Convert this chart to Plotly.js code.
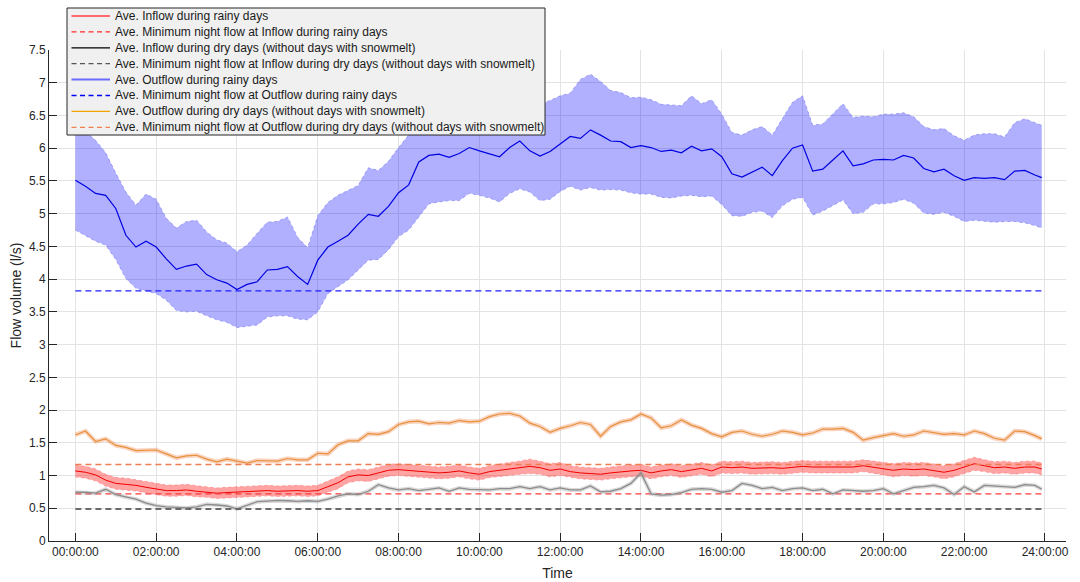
<!DOCTYPE html>
<html>
<head>
<meta charset="utf-8">
<script src="https://cdn.plot.ly/plotly-3.0.1.min.js"></script>
<style>html,body{margin:0;padding:0;background:#fff;}#chart{width:1080px;height:582px;}</style>
</head>
<body>
<div id="chart"></div>
<script>
// Time of day in hours (15-minute samples, last sample 23:55)
const hours = [0,0.25,0.5,0.75,1,1.25,1.5,1.75,2,2.25,2.5,2.75,3,3.25,3.5,3.75,4,4.25,4.5,4.75,5,5.25,5.5,5.75,6,6.25,6.5,6.75,7,7.25,
  7.5,7.75,8,8.25,8.5,8.75,9,9.25,9.5,9.75,10,10.25,10.5,10.75,11,11.25,11.5,11.75,12,12.25,12.5,12.75,13,13.25,13.5,13.75,14,14.25,14.5,14.75,15,15.25,15.5,15.75,
  16,16.25,16.5,16.75,17,17.25,17.5,17.75,18,18.25,18.5,18.75,19,19.25,19.5,19.75,20,20.25,20.5,20.75,21,21.25,21.5,21.75,22,22.25,22.5,22.75,23,23.25,23.5,23.75,23.92];

// Ave. Outflow during rainy days (mean, upper and lower envelope)
const outflowRainy = [5.51,5.42,5.31,5.28,5.08,4.67,4.49,4.58,4.49,4.31,4.15,4.20,4.23,4.07,3.99,3.94,3.84,3.92,3.96,4.14,4.15,4.19,4.04,3.92,4.29,4.49,4.58,4.67,4.84,4.99,4.96,
  5.11,5.32,5.44,5.79,5.89,5.91,5.86,5.92,6.01,5.96,5.91,5.87,6.01,6.11,5.96,5.88,5.95,6.06,6.18,6.15,6.28,6.20,6.11,6.10,6.01,6.04,6.01,5.95,5.97,5.93,6.03,5.96,5.99,5.87,
  5.61,5.56,5.63,5.71,5.58,5.81,6.00,6.05,5.65,5.68,5.82,5.96,5.73,5.76,5.82,5.83,5.82,5.89,5.85,5.69,5.64,5.68,5.58,5.51,5.55,5.54,5.55,5.52,5.65,5.66,5.59,
  5.55];
const outflowRainyUpper = [6.35,6.25,6.12,5.93,5.62,5.33,5.13,5.30,5.22,4.93,4.78,4.88,4.90,4.72,4.60,4.55,4.42,4.52,4.70,4.87,4.88,4.95,4.64,4.48,4.97,5.17,5.28,5.36,5.43,5.70,5.66,
  5.80,6.01,6.20,6.36,6.45,6.50,6.52,6.52,6.55,6.56,6.57,6.58,6.60,6.62,6.64,6.66,6.73,6.80,6.84,7.05,7.13,7.02,6.88,6.85,6.77,6.78,6.74,6.67,6.66,6.65,6.80,6.68,6.74,6.52,
  6.24,6.20,6.28,6.33,6.20,6.45,6.70,6.80,6.35,6.37,6.53,6.68,6.47,6.49,6.48,6.52,6.52,6.54,6.48,6.33,6.28,6.30,6.19,6.12,6.20,6.22,6.22,6.17,6.39,6.45,6.39,
  6.35];
const outflowRainyLower = [4.75,4.66,4.58,4.52,4.30,4.01,3.86,3.82,3.78,3.68,3.52,3.50,3.51,3.44,3.38,3.34,3.26,3.28,3.30,3.42,3.44,3.44,3.39,3.38,3.50,3.78,3.88,3.99,4.14,4.29,4.30,
  4.45,4.65,4.75,4.95,5.15,5.18,5.20,5.20,5.31,5.28,5.24,5.18,5.31,5.38,5.33,5.20,5.22,5.34,5.42,5.36,5.40,5.36,5.37,5.36,5.32,5.30,5.30,5.25,5.24,5.27,5.28,5.26,5.27,5.14,
  4.97,4.96,5.02,5.04,4.94,5.12,5.22,5.25,4.98,5.04,5.12,5.21,5.00,5.02,5.15,5.15,5.17,5.22,5.16,5.01,4.99,5.02,4.96,4.88,4.90,4.89,4.87,4.88,4.88,4.86,4.82,
  4.78];

// Ave. Outflow during dry days (without days with snowmelt)
const outflowDry = [1.62,1.68,1.52,1.56,1.46,1.43,1.38,1.39,1.39,1.33,1.27,1.30,1.31,1.25,1.21,1.25,1.22,1.19,1.23,1.23,1.22,1.26,1.24,1.24,1.34,1.33,1.47,1.53,1.53,1.64,
  1.63,1.67,1.78,1.82,1.83,1.79,1.81,1.80,1.84,1.82,1.83,1.90,1.94,1.95,1.91,1.80,1.75,1.66,1.72,1.76,1.81,1.78,1.60,1.75,1.82,1.85,1.94,1.88,1.73,1.76,1.85,1.77,1.72,
  1.64,1.59,1.66,1.68,1.63,1.60,1.63,1.68,1.66,1.62,1.65,1.71,1.71,1.72,1.66,1.54,1.58,1.61,1.64,1.60,1.62,1.68,1.66,1.63,1.64,1.62,1.68,1.64,1.57,1.54,1.68,1.67,1.61,
  1.56];

// Ave. Inflow during rainy days (mean and half-width of its band)
const inflowRainy = [1.07,1.05,1.01,0.93,0.88,0.87,0.85,0.82,0.79,0.77,0.77,0.78,0.76,0.75,0.73,0.74,0.75,0.755,0.76,0.77,0.76,0.77,0.77,0.76,0.77,0.83,0.89,0.98,1.01,1.00,
  1.04,1.08,1.09,1.08,1.06,1.05,1.04,1.05,1.07,1.04,1.02,1.06,1.08,1.10,1.12,1.14,1.12,1.08,1.10,1.06,1.04,1.03,1.02,1.04,1.06,1.07,1.08,1.04,1.07,1.09,1.06,1.09,1.11,1.07,
  1.13,1.12,1.13,1.11,1.12,1.12,1.11,1.12,1.14,1.13,1.13,1.13,1.14,1.13,1.15,1.13,1.11,1.08,1.10,1.09,1.10,1.08,1.05,1.08,1.13,1.18,1.15,1.12,1.13,1.11,1.13,1.13,
  1.10];
const inflowRainySpread = [0.09,0.09,0.09,0.09,0.09,0.09,0.085,0.085,0.085,0.085,0.085,0.085,0.085,0.08,0.08,0.08,0.08,0.08,0.08,0.08,0.08,0.08,0.08,0.08,0.08,0.085,0.09,0.09,0.09,0.09,
  0.09,0.09,0.09,0.09,0.09,0.09,0.09,0.09,0.09,0.09,0.09,0.09,0.10,0.10,0.10,0.11,0.10,0.10,0.10,0.09,0.09,0.09,0.09,0.09,0.09,0.09,0.09,0.09,0.09,0.09,0.09,0.09,0.09,0.09,
  0.09,0.09,0.09,0.09,0.09,0.09,0.09,0.09,0.09,0.09,0.09,0.09,0.09,0.09,0.09,0.09,0.10,0.10,0.10,0.10,0.10,0.10,0.10,0.10,0.10,0.10,0.09,0.09,0.09,0.09,0.09,0.09,
  0.09];

// Ave. Inflow during dry days (without days with snowmelt)
const inflowDry = [0.745,0.745,0.73,0.79,0.71,0.67,0.64,0.58,0.54,0.52,0.51,0.505,0.52,0.56,0.55,0.535,0.49,0.55,0.60,0.61,0.62,0.615,0.605,0.615,0.605,0.64,0.69,0.72,0.71,0.76,
  0.86,0.81,0.78,0.80,0.77,0.79,0.81,0.76,0.81,0.79,0.78,0.78,0.80,0.80,0.83,0.80,0.83,0.78,0.81,0.78,0.78,0.84,0.75,0.76,0.80,0.88,1.04,0.72,0.70,0.71,0.74,0.79,0.80,0.79,
  0.745,0.77,0.88,0.85,0.80,0.82,0.77,0.80,0.81,0.77,0.79,0.72,0.78,0.77,0.76,0.77,0.80,0.72,0.77,0.82,0.83,0.85,0.81,0.71,0.83,0.75,0.85,0.84,0.82,0.82,0.86,0.85,
  0.79];

// Average minimum night flows (l/s)
const minNightInflowRainy = 0.72;
const minNightInflowDry = 0.49;
const minNightOutflowRainy = 3.82;
const minNightOutflowDry = 1.17;

const xTickVals = [0,2,4,6,8,10,12,14,16,18,20,22,24];
const xTickText = ["00:00:00","02:00:00","04:00:00","06:00:00","08:00:00","10:00:00","12:00:00","14:00:00","16:00:00","18:00:00","20:00:00","22:00:00","24:00:00"];

const legendLabels = [
  "Ave. Inflow during rainy days",
  "Ave. Minimum night flow at Inflow during rainy days",
  "Ave. Inflow during dry days (without days with snowmelt)",
  "Ave. Minimum night flow at Inflow during dry days (without days with snowmelt)",
  "Ave. Outflow during rainy days",
  "Ave. Minimum night flow at Outflow during rainy days",
  "Ave. Outflow during dry days (without days with snowmelt)",
  "Ave. Minimum night flow at Outflow during dry days (without days with snowmelt)"
];

const span = [hours[0], hours[hours.length - 1]];
const flat = v => [v, v];
const redUpper = inflowRainy.map((v, i) => v + inflowRainySpread[i]);
const redLower = inflowRainy.map((v, i) => v - inflowRainySpread[i]);
const DASH = "6px,4px";

const traces = [
  {x: hours, y: outflowRainyLower, mode: "lines", line: {color: "#8a8af2", width: 0.8, dash: "dot"}, hoverinfo: "skip", showlegend: false},
  {x: hours, y: outflowRainyUpper, mode: "lines", fill: "tonexty", fillcolor: "rgba(0,0,255,0.31)", line: {color: "#8a8af2", width: 0.8, dash: "dot"}, hoverinfo: "skip", showlegend: false},
  {x: hours, y: outflowRainy, mode: "lines", name: legendLabels[4], line: {color: "#0000e0", width: 1.2}},
  {x: span, y: flat(minNightOutflowRainy), mode: "lines", name: legendLabels[5], line: {color: "#1f1fff", width: 1.2, dash: DASH}},
  {x: hours, y: outflowDry, mode: "lines", line: {color: "rgba(240,150,100,0.40)", width: 4.5}, hoverinfo: "skip", showlegend: false},
  {x: hours, y: outflowDry, mode: "lines", name: legendLabels[6], line: {color: "#e8903c", width: 1.2}},
  {x: hours, y: redLower, mode: "lines", line: {color: "#ff8a8a", width: 0.8, dash: "dot"}, hoverinfo: "skip", showlegend: false},
  {x: hours, y: redUpper, mode: "lines", fill: "tonexty", fillcolor: "rgba(255,0,0,0.36)", line: {color: "#ff8a8a", width: 0.8, dash: "dot"}, hoverinfo: "skip", showlegend: false},
  {x: hours, y: inflowRainy, mode: "lines", name: legendLabels[0], line: {color: "#f00000", width: 1}},
  {x: span, y: flat(minNightOutflowDry), mode: "lines", name: legendLabels[7], line: {color: "#ef7d52", width: 1.5, dash: DASH}},
  {x: span, y: flat(minNightInflowRainy), mode: "lines", name: legendLabels[1], line: {color: "#ff3a3a", width: 1.3, dash: DASH}},
  {x: hours, y: inflowDry, mode: "lines", line: {color: "rgba(150,150,150,0.35)", width: 4}, hoverinfo: "skip", showlegend: false},
  {x: hours, y: inflowDry, mode: "lines", name: legendLabels[2], line: {color: "#8c8c8c", width: 1.3}},
  {x: span, y: flat(minNightInflowDry), mode: "lines", name: legendLabels[3], line: {color: "#6a6a6a", width: 2, dash: DASH}}
];

// Custom legend box (matches the compact MATLAB-style legend)
const L = 49, R = 1066, T = 50, B = 541;
const px = x => (x - L) / (R - L);
const py = y => (B - y) / (B - T);
const legendStyles = [
  {color: "#ff6b6b", width: 2, dash: "solid"},
  {color: "#ff2a2a", width: 1.2, dash: "dash"},
  {color: "#000000", width: 1.2, dash: "solid"},
  {color: "#555555", width: 1.3, dash: "dash"},
  {color: "#6b6bff", width: 2, dash: "solid"},
  {color: "#0000ff", width: 1.3, dash: "dash"},
  {color: "#f0a500", width: 1.2, dash: "solid"},
  {color: "#f08050", width: 1.3, dash: "dash"}
];
const shapes = [{type: "rect", xref: "paper", yref: "paper", x0: px(67), x1: px(545), y0: py(135), y1: py(8),
  fillcolor: "#f0f0f0", line: {color: "#262626", width: 1}, layer: "above"}];
const annotations = [];
legendLabels.forEach((lab, i) => {
  const yc = 16 + i * 15.9;
  shapes.push({type: "line", xref: "paper", yref: "paper", x0: px(71.5), x1: px(110), y0: py(yc), y1: py(yc),
    line: {color: legendStyles[i].color, width: legendStyles[i].width, dash: legendStyles[i].dash === "dash" ? "5px,3.5px" : "solid"}, layer: "above"});
  annotations.push({xref: "paper", yref: "paper", x: px(113), y: py(yc), xanchor: "left", yanchor: "middle", text: lab, showarrow: false,
    font: {family: "Liberation Sans, Arial, sans-serif", size: 12, color: "#1a1a1a"}});
});

const tickFont = {family: "Liberation Sans, Arial, sans-serif", size: 12, color: "#262626"};
const layout = {
  width: 1080, height: 582,
  margin: {l: L, r: 1080 - R, t: T, b: 582 - B},
  paper_bgcolor: "#ffffff", plot_bgcolor: "#ffffff",
  showlegend: false,
  font: {family: "Liberation Sans, Arial, sans-serif", color: "#262626"},
  xaxis: {
    range: [-0.653, 24.52], tickmode: "array", tickvals: xTickVals, ticktext: xTickText,
    ticks: "inside", ticklen: 8, tickwidth: 1, tickcolor: "#262626",
    showline: true, linecolor: "#262626", linewidth: 1,
    showgrid: true, gridcolor: "#e3e3e3", gridwidth: 1, zeroline: false,
    tickfont: tickFont, automargin: false,
    title: {text: "Time", font: {family: "Liberation Sans, Arial, sans-serif", size: 14, color: "#262626"}, standoff: 9}
  },
  yaxis: {
    range: [0, 7.5], tick0: 0, dtick: 0.5,
    ticks: "inside", ticklen: 8, tickwidth: 1, tickcolor: "#262626",
    showline: true, linecolor: "#262626", linewidth: 1,
    showgrid: true, gridcolor: "#e3e3e3", gridwidth: 1, zeroline: false,
    tickfont: tickFont, automargin: false,
    title: {text: "Flow volume (l/s)", font: {family: "Liberation Sans, Arial, sans-serif", size: 14, color: "#262626"}, standoff: 4}
  },
  shapes: shapes,
  annotations: annotations
};

Plotly.newPlot("chart", traces, layout, {staticPlot: true, displayModeBar: false});
</script>
</body>
</html>
